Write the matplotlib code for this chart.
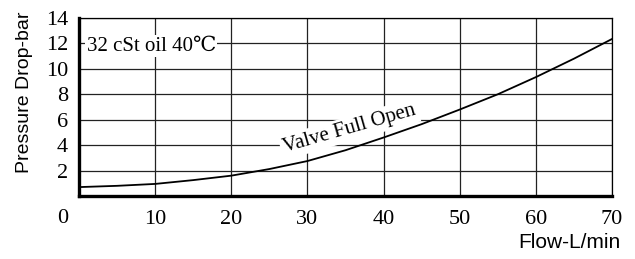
import numpy as np
import matplotlib
matplotlib.use("Agg")
import matplotlib.pyplot as plt

# curve (flow L/min -> pressure drop bar)
flow = [0, 5, 10, 15, 20, 25, 30, 35, 40, 45, 50, 55, 60, 65, 70]
pressure = [0.7, 0.8, 0.95, 1.25, 1.6, 2.12, 2.75, 3.6, 4.6, 5.65, 6.8, 8.0, 9.35, 10.8, 12.35]

x_ticks = [10, 20, 30, 40, 50, 60, 70]
y_ticks = [2, 4, 6, 8, 10, 12, 14]

fig = plt.figure(figsize=(6.35, 2.59), dpi=100)
ax = fig.add_axes([79 / 635, 1 - 196 / 259, (612 - 79) / 635, (196 - 18) / 259])

ax.set_xlim(0, 70)
ax.set_ylim(0, 14)
ax.set_xticks(x_ticks)
ax.set_yticks(y_ticks)
ax.grid(True, color="#222222", linewidth=0.9)
ax.set_axisbelow(True)

serif = ["Liberation Serif", "DejaVu Serif", "Noto Sans CJK SC"]
tick_font = dict(family=serif, size=16)
ax.set_xticklabels([str(v) for v in x_ticks], **tick_font)
ax.set_yticklabels([str(v) for v in y_ticks], **tick_font)
ax.tick_params(axis="both", length=0)
ax.tick_params(axis="x", pad=10)
ax.tick_params(axis="y", pad=8)

for side in ["left", "bottom"]:
    ax.spines[side].set_linewidth(2.4)
for side in ["top", "right"]:
    ax.spines[side].set_linewidth(0.9)
for sp in ax.spines.values():
    sp.set_color("black")

ax.plot(flow, pressure, color="black", linewidth=1.3, zorder=3)

# shared origin label
ax.annotate("0", xy=(0, 0), xytext=(-12, -16), textcoords="offset points",
            ha="center", va="center", annotation_clip=False, **tick_font)

ax.text(1.0, 11.8, "32 cSt oil 40℃", family=serif, size=15,
        ha="left", va="center", zorder=4,
        bbox=dict(facecolor="white", edgecolor="none", pad=1.0))
ax.text(35.5, 5.27, "Valve Full Open", family=serif, size=15,
        rotation=16, rotation_mode="anchor", ha="center", va="center", zorder=4,
        bbox=dict(facecolor="white", edgecolor="none", pad=2.0))

label_font = ["Liberation Sans", "DejaVu Sans"]
fig.text(25 / 635, 1 - 92 / 259, "Pressure Drop-bar", family=label_font, size=14,
         rotation=90, ha="center", va="center")
fig.text(620 / 635, 1 - 243 / 259, "Flow-L/min", family=label_font, size=15,
         ha="right", va="center")

fig.savefig("out.png", dpi=100)
